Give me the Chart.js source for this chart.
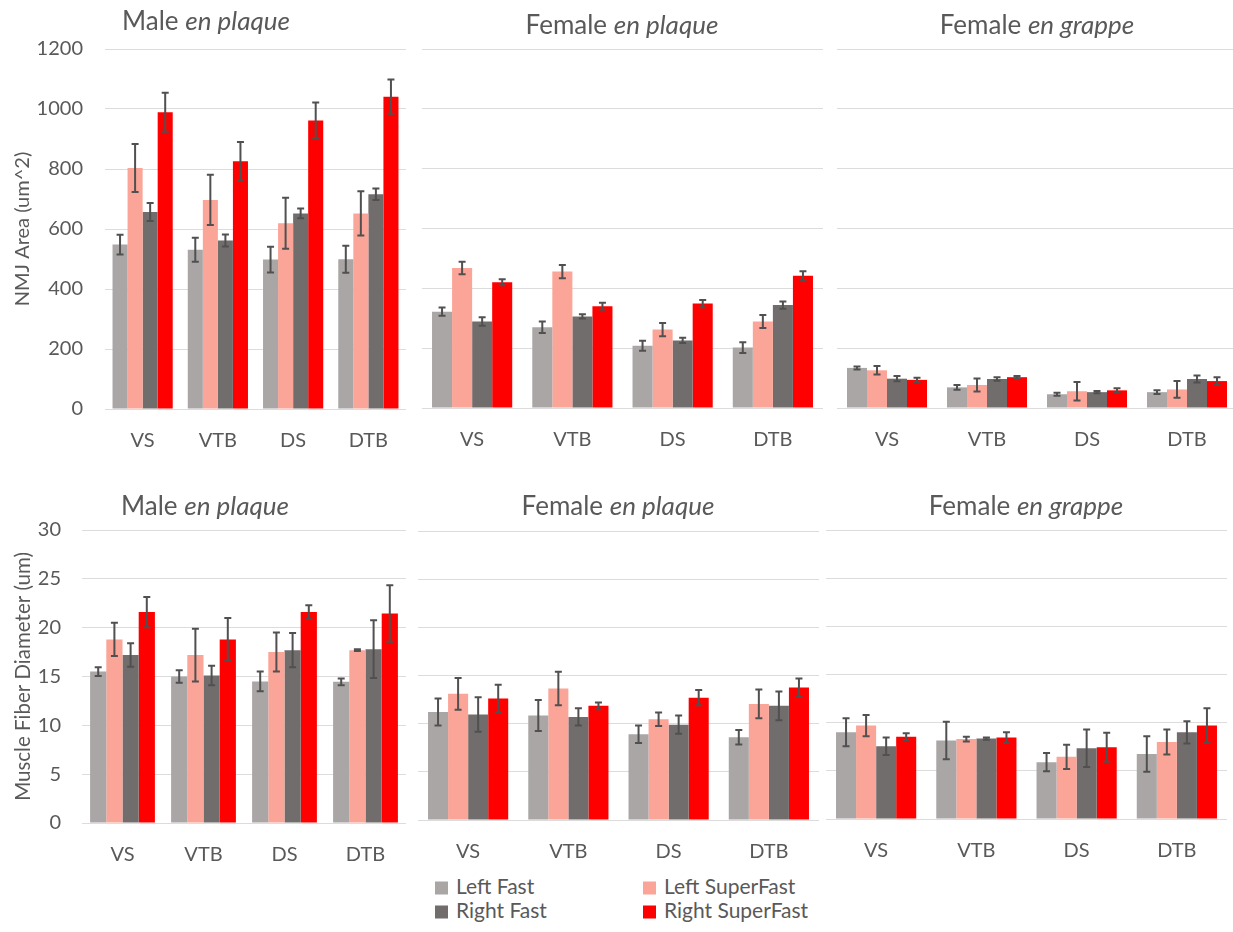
<!DOCTYPE html>
<html>
<head>
<meta charset="utf-8">
<script src="https://cdn.jsdelivr.net/npm/chart.js@4.4.1/dist/chart.umd.min.js"></script>
<style>
  body { margin: 0; width: 1233px; height: 932px; overflow: hidden; background: #fff; position: relative; font-family: Lato, sans-serif; color: #595959; }
  canvas { position: absolute; }
  .ttl { position: absolute; font-size: 26px; line-height: 1; white-space: nowrap; transform: translate(-50%, -50%); }
  .lg { position: absolute; font-size: 21px; line-height: 1; white-space: nowrap; transform: translateY(-50%); }
  .lg span { display: inline-block; width: 13px; height: 13px; margin-right: 8px; vertical-align: -1px; }
</style>
</head>
<body>
<canvas id="c0" width="411" height="460" style="left:0;top:0"></canvas>
<canvas id="c1" width="411" height="460" style="left:417px;top:0"></canvas>
<canvas id="c2" width="410" height="460" style="left:832px;top:0"></canvas>
<canvas id="c3" width="411" height="400" style="left:0;top:470px"></canvas>
<canvas id="c4" width="411" height="400" style="left:413px;top:470px"></canvas>
<canvas id="c5" width="411" height="400" style="left:821px;top:470px"></canvas>

<div class="ttl" style="left:206px;top:20px">Male <i>en plaque</i></div>
<div class="ttl" style="left:622px;top:24px">Female <i>en plaque</i></div>
<div class="ttl" style="left:1037px;top:24px">Female <i>en grappe</i></div>
<div class="ttl" style="left:205px;top:505px">Male <i>en plaque</i></div>
<div class="ttl" style="left:618px;top:505px">Female <i>en plaque</i></div>
<div class="ttl" style="left:1026px;top:505px">Female <i>en grappe</i></div>

<div id="legend"></div>

<script>
const categories = ['VS', 'VTB', 'DS', 'DTB']
const seriesNames = ['Left Fast', 'Left SuperFast', 'Right Fast', 'Right SuperFast']
const seriesColors = ['#AAA6A6', '#FBA598', '#726D6D', '#FF0000']

// NMJ area (um^2), rows follow seriesNames
const nmjMale = [[548, 531, 498, 499], [803, 697, 619, 652], [657, 562, 652, 716], [989, 826, 962, 1041]]
const nmjMaleErr = [[33, 40, 43, 45], [80, 84, 85, 74], [30, 20, 16, 19], [65, 64, 60, 57]]
const nmjFemPlaque = [[322, 270, 208, 202], [468, 456, 262, 289], [289, 306, 226, 344], [420, 340, 349, 442]]
const nmjFemPlaqueErr = [[14, 19, 17, 18], [21, 22, 22, 22], [14, 7, 9, 12], [10, 12, 12, 15]]
const nmjFemGrappe = [[134, 69, 46, 53], [126, 77, 56, 62], [98, 97, 53, 97], [94, 103, 59, 90]]
const nmjFemGrappeErr = [[5, 8, 5, 6], [14, 22, 31, 28], [9, 6, 4, 12], [7, 4, 7, 13]]

// muscle fiber diameter (um)
const diaMale = [[15.5, 15.0, 14.5, 14.45], [18.8, 17.2, 17.5, 17.7], [17.2, 15.1, 17.7, 17.8], [21.6, 18.8, 21.6, 21.45]]
const diaMaleErr = [[0.45, 0.65, 1.0, 0.35], [1.7, 2.7, 2.0, 0.1], [1.2, 1.0, 1.75, 2.95], [1.55, 2.2, 0.7, 2.9]]
const diaFemPlaque = [[11.2, 10.85, 8.9, 8.6], [13.1, 13.65, 10.45, 12.05], [10.95, 10.7, 9.9, 11.85], [12.6, 11.85, 12.7, 13.75]]
const diaFemPlaqueErr = [[1.4, 1.6, 0.9, 0.75], [1.65, 1.75, 0.7, 1.5], [1.8, 0.9, 0.95, 1.5], [1.45, 0.35, 0.8, 0.95]]
const diaFemGrappe = [[9.0, 8.15, 5.9, 6.75], [9.7, 8.3, 6.45, 8.0], [7.55, 8.35, 7.35, 9.0], [8.55, 8.45, 7.45, 9.7]]
const diaFemGrappeErr = [[1.45, 1.95, 0.95, 1.85], [1.1, 0.25, 1.25, 1.3], [0.9, 0.12, 1.95, 1.15], [0.35, 0.55, 1.5, 1.8]]

Chart.defaults.font.family = 'Lato, sans-serif'
Chart.defaults.color = '#595959'

// whiskers: value +/- error, drawn through the y scale
const errorBars = {
  id: 'errorBars',
  afterDatasetsDraw(chart) {
    const ctx = chart.ctx
    const y = chart.scales.y
    ctx.save()
    ctx.strokeStyle = '#505050'
    ctx.lineWidth = 2
    chart.data.datasets.forEach((ds, i) => {
      chart.getDatasetMeta(i).data.forEach((bar, j) => {
        const v = ds.data[j]
        const e = ds.errors[j]
        const hi = y.getPixelForValue(v + e)
        const lo = y.getPixelForValue(v - e)
        ctx.beginPath()
        ctx.moveTo(bar.x, hi); ctx.lineTo(bar.x, lo)
        ctx.moveTo(bar.x - 3.5, hi); ctx.lineTo(bar.x + 3.5, hi)
        ctx.moveTo(bar.x - 3.5, lo); ctx.lineTo(bar.x + 3.5, lo)
        ctx.stroke()
      })
    })
    ctx.restore()
  }
}

function makePanel(id, values, errors, o) {
  new Chart(document.getElementById(id), {
    type: 'bar',
    data: {
      labels: categories,
      datasets: seriesNames.map((name, i) => ({
        label: name,
        data: values[i],
        errors: errors[i],
        backgroundColor: seriesColors[i],
        categoryPercentage: 0.8,
        barPercentage: 1.0
      }))
    },
    options: {
      responsive: false,
      animation: false,
      layout: { padding: { top: o.top, left: o.padL, right: o.padR, bottom: 0 } },
      plugins: { legend: { display: false }, tooltip: { enabled: false } },
      scales: {
        x: {
          grid: { display: false, drawTicks: false },
          border: { display: false },
          ticks: { font: { size: 20 }, padding: 20, maxRotation: 0 },
          afterFit: (s) => { s.height = o.xH }
        },
        y: {
          min: 0,
          max: o.max,
          grid: { color: '#DCDCDC', drawTicks: false },
          border: { display: false },
          ticks: {
            display: o.axis > 0,
            stepSize: o.step,
            font: { size: 20 },
            padding: o.tickPad,
            callback: (v) => String(v)
          },
          title: {
            display: !!o.title,
            text: o.title || '',
            font: { size: o.titleSize || 19.5 },
            padding: { top: 11, bottom: 0 }
          },
          afterFit: (s) => { s.width = o.axis }
        }
      }
    },
    plugins: [errorBars]
  })
}

makePanel('c0', nmjMale, nmjMaleErr, { max: 1200, step: 200, top: 49, xH: 51, axis: 105, padL: 0, padR: 5, tickPad: 22, title: 'NMJ Area (um^2)', titleSize: 20 })
makePanel('c1', nmjFemPlaque, nmjFemPlaqueErr, { max: 1200, step: 200, top: 49, xH: 52, axis: 0, padL: 5, padR: 5 })
makePanel('c2', nmjFemGrappe, nmjFemGrappeErr, { max: 1200, step: 200, top: 49, xH: 52, axis: 0, padL: 5, padR: 5 })
makePanel('c3', diaMale, diaMaleErr, { max: 30, step: 5, top: 60, xH: 47, axis: 82, padL: 0, padR: 5, tickPad: 21, title: 'Muscle Fiber Diameter (um)', titleSize: 20.5 })
makePanel('c4', diaFemPlaque, diaFemPlaqueErr, { max: 30, step: 5, top: 61, xH: 50, axis: 0, padL: 5, padR: 5 })
makePanel('c5', diaFemGrappe, diaFemGrappeErr, { max: 30, step: 5, top: 60, xH: 51, axis: 0, padL: 5, padR: 5 })

// two-by-two legend under the middle panel
const legendPos = [[435, 885], [643, 885], [435, 909], [643, 909]]
document.getElementById('legend').innerHTML = seriesNames.map((name, i) =>
  `<div class="lg" style="left:${legendPos[i][0]}px;top:${legendPos[i][1]}px"><span style="background:${seriesColors[i]}"></span>${name}</div>`
).join('')
</script>
</body>
</html>
